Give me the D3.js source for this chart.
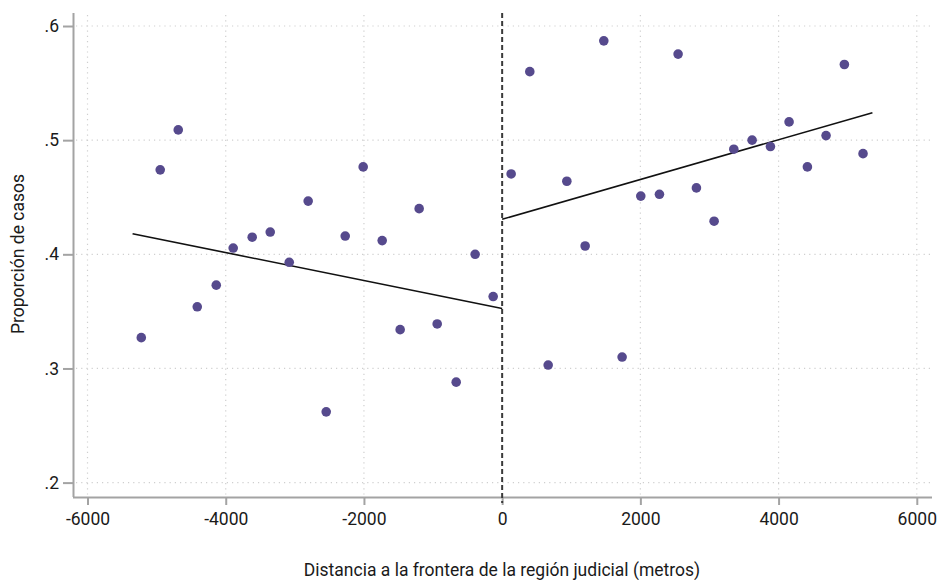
<!DOCTYPE html>
<html>
<head>
<meta charset="utf-8">
<script src="https://cdn.jsdelivr.net/npm/d3@7"></script>
<style>
  html, body { margin: 0; padding: 0; background: #fff; }
  svg { display: block; }
  text { font-family: Roboto, "Liberation Sans", sans-serif; fill: #1a1a1a; }
</style>
</head>
<body>
<svg id="chart" width="938" height="580"></svg>
<script>
// ---- data ----
const leftX = [-5222, -4948, -4687, -4412, -4137, -3892, -3617, -3356, -3081, -2807,
               -2546, -2271, -2011, -1736, -1476, -1201, -940, -665, -391, -130];
const leftY = [0.327, 0.474, 0.509, 0.354, 0.373, 0.4055, 0.415, 0.4195, 0.393, 0.4466,
               0.262, 0.416, 0.4766, 0.412, 0.334, 0.440, 0.339, 0.288, 0.400, 0.363];
const rightX = [130, 400, 666, 936, 1201, 1471, 1736, 2006, 2276, 2546,
                2811, 3067, 3352, 3617, 3882, 4152, 4417, 4687, 4952, 5222];
const rightY = [0.4704, 0.560, 0.303, 0.464, 0.4073, 0.587, 0.310, 0.451, 0.4526, 0.5754,
                0.4582, 0.429, 0.4921, 0.500, 0.4944, 0.516, 0.4766, 0.504, 0.5663, 0.4882];
const leftFitX = [-5348, 0];
const leftFitY = [0.418, 0.3526];
const rightFitX = [0, 5358];
const rightFitY = [0.4307, 0.524];
const xTicks = [-6000, -4000, -2000, 0, 2000, 4000, 6000];
const xTickLabels = ["-6000", "-4000", "-2000", "0", "2000", "4000", "6000"];
const yTicks = [0.2, 0.3, 0.4, 0.5, 0.6];
const yTickLabels = [".2", ".3", ".4", ".5", ".6"];
const xTitle = "Distancia a la frontera de la región judicial (metros)";
const yTitle = "Proporción de casos";

// ---- layout ----
const svg = d3.select("#chart");
const L = 73, R = 932, T = 13, B = 497;
const x = d3.scaleLinear().domain([-6210, 6220]).range([L, R]);
const y = d3.scaleLinear().domain([0.1874, 0.6114]).range([B, T]);

const axisColor = "#a3a3a3";
const gridColor = "#cfcfcf";

// gridlines
svg.append("g").selectAll("line.h").data(yTicks).join("line")
  .attr("x1", L + 3).attr("x2", R)
  .attr("y1", d => y(d)).attr("y2", d => y(d))
  .attr("stroke", gridColor).attr("stroke-width", 1.2).attr("stroke-dasharray", "1.2,4");
svg.append("g").selectAll("line.v").data(xTicks.filter(d => d !== 0)).join("line")
  .attr("x1", d => x(d)).attr("x2", d => x(d))
  .attr("y1", T + 2).attr("y2", B - 1)
  .attr("stroke", gridColor).attr("stroke-width", 1.2).attr("stroke-dasharray", "1.2,4");

// axes
const xAxis = svg.append("g").attr("transform", `translate(0,${B})`)
  .call(d3.axisBottom(x).tickValues(xTicks)
    .tickFormat((d, i) => xTickLabels[i]).tickSize(8).tickPadding(8));
const yAxis = svg.append("g").attr("transform", `translate(${L},0)`)
  .call(d3.axisLeft(y).tickValues(yTicks)
    .tickFormat((d, i) => yTickLabels[i]).tickSize(10).tickPadding(4));
[xAxis, yAxis].forEach(a => {
  a.select(".domain").attr("stroke", axisColor).attr("stroke-width", 2);
  a.selectAll(".tick line").attr("stroke", axisColor).attr("stroke-width", 2);
  a.selectAll(".tick text").style("font-size", "17.5px").attr("fill", "#1a1a1a")
    .style("font-family", "Roboto, 'Liberation Sans', sans-serif");
});
xAxis.select(".domain").attr("d", `M${L},0.5H${R}`);
yAxis.select(".domain").attr("d", `M0.5,${T}V${B}`);

// cutoff dashed line
svg.append("line")
  .attr("x1", x(0)).attr("x2", x(0)).attr("y1", T).attr("y2", B + 6)
  .attr("stroke", "#3a3a3a").attr("stroke-width", 2).attr("stroke-dasharray", "5,3");

// fitted lines
const line = d3.line().x(d => x(d[0])).y(d => y(d[1]));
svg.append("path").datum(d3.zip(leftFitX, leftFitY)).attr("d", line)
  .attr("fill", "none").attr("stroke", "#111").attr("stroke-width", 1.6);
svg.append("path").datum(d3.zip(rightFitX, rightFitY)).attr("d", line)
  .attr("fill", "none").attr("stroke", "#111").attr("stroke-width", 1.6);

// points
const pts = d3.zip(leftX, leftY).concat(d3.zip(rightX, rightY));
svg.append("g").selectAll("circle").data(pts).join("circle")
  .attr("cx", d => x(d[0])).attr("cy", d => y(d[1])).attr("r", 4.8)
  .attr("fill", "#564a8d");

// titles
svg.append("text").attr("x", 502).attr("y", 576).attr("text-anchor", "middle")
  .style("font-size", "17.5px").text(xTitle);
svg.append("text").attr("transform", "translate(24,254) rotate(-90)").attr("text-anchor", "middle")
  .style("font-size", "17.5px").text(yTitle);
</script>
</body>
</html>
